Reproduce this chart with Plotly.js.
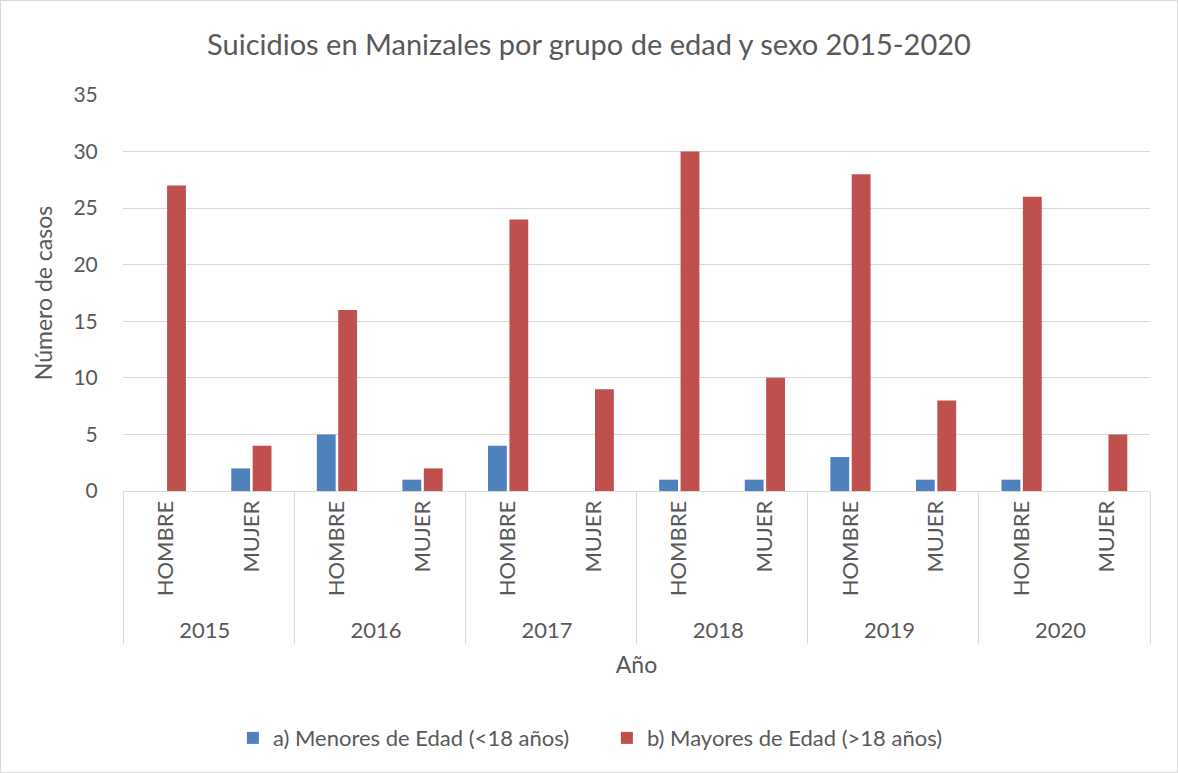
<!DOCTYPE html>
<html>
<head>
<meta charset="utf-8">
<script src="https://cdn.plot.ly/plotly-3.0.1.min.js"></script>
<style>
html,body{margin:0;padding:0;background:#fff;}
#wrap{position:relative;width:1178px;height:773px;}
#chart{width:1178px;height:773px;}
#frame{position:absolute;left:0;top:0;width:1176px;height:771px;border:1px solid #d9d9d9;pointer-events:none;}
</style>
</head>
<body>
<div id="wrap"><div id="chart"></div><div id="frame"></div></div>
<script>
const years = ["2015","2015","2016","2016","2017","2017","2018","2018","2019","2019","2020","2020"];
const sexes = ["HOMBRE","MUJER","HOMBRE","MUJER","HOMBRE","MUJER","HOMBRE","MUJER","HOMBRE","MUJER","HOMBRE","MUJER"];
const menores = [0,2,5,1,4,0,1,1,3,1,1,0];
const mayores = [27,4,16,2,24,9,30,10,28,8,26,5];
const seriesNames = ["a) Menores de Edad (<18 años)","b) Mayores de Edad (>18 años)"];

const font = "Lato, 'Open Sans', sans-serif";
const grey = "#595959";

const traces = [
  {type:"bar", name:seriesNames[0], x:[years,sexes], y:menores, marker:{color:"#4f81bd"}},
  {type:"bar", name:seriesNames[1], x:[years,sexes], y:mayores, marker:{color:"#c0504d"}}
];

const layout = {
  width:1178, height:773,
  margin:{l:123, r:28, t:95, b:282},
  paper_bgcolor:"#fff", plot_bgcolor:"#fff",
  font:{family:font, color:grey, size:21},
  title:{text:"Suicidios en Manizales por grupo de edad y sexo 2015-2020", font:{size:29, color:grey, family:font}, x:0.5, xanchor:"center", y:0.942, yanchor:"middle"},
  barmode:"group", bargap:0.5, bargroupgap:0.12,
  xaxis:{type:"multicategory", tickangle:-90, showline:true, linecolor:"#d9d9d9", linewidth:1, automargin:false,
         showdividers:true, dividercolor:"#d9d9d9", dividerwidth:1, ticks:"",
         tickfont:{size:22, color:grey, family:font},
         title:{text:"Año", font:{size:23, color:grey, family:font}, standoff:14}},
  yaxis:{range:[0,35], dtick:5, showgrid:true, gridcolor:"#d9d9d9", gridwidth:1, zeroline:false, automargin:false,
         ticks:"outside", ticklen:20, tickcolor:"rgba(0,0,0,0)", tickfont:{size:21, color:grey, family:font},
         title:{text:"Número de casos", font:{size:23, color:grey, family:font}, standoff:14}},
  legend:{orientation:"h", x:0.107, xanchor:"left", y:-0.624, yanchor:"middle", font:{size:22, color:grey, family:font}, traceorder:"normal", itemwidth:30, entrywidth:329}
};

Plotly.newPlot("chart", traces, layout, {displayModeBar:false, staticPlot:true});
</script>
</body>
</html>
